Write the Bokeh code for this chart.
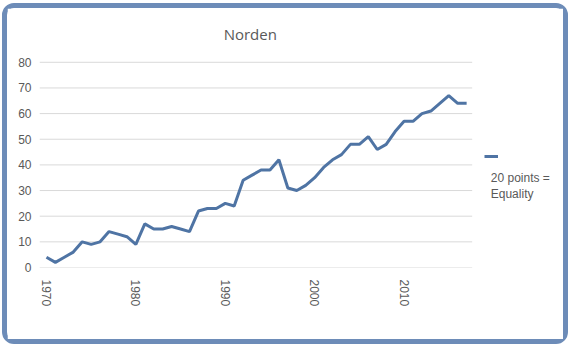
import math
from bokeh.plotting import figure
from bokeh.models import FixedTicker, Legend, LegendItem, Label, Range1d
from bokeh.embed import file_html
from bokeh.resources import INLINE

years = list(range(1970, 2018))
values = [4, 2, 4, 6, 10, 9, 10, 14, 13, 12, 9, 17, 15, 15, 16, 15, 14, 22, 23, 23,
          25, 24, 34, 36, 38, 38, 42, 31, 30, 32, 35, 39, 42, 44, 48, 48, 51, 46, 48, 53,
          57, 57, 60, 61, 64, 67, 64, 64]
x_ticks = [1970, 1980, 1990, 2000, 2010]
y_ticks = [0, 10, 20, 30, 40, 50, 60, 70, 80]
title_text = "Norden"
legend_text = "20 points =\nEquality"

LINE = "#4f74a4"
GRAY = "#595959"

W, H = 566, 341
p = figure(width=W, height=H, output_backend="svg", toolbar_location=None,
           x_range=Range1d(1969.22, 2027.5), y_range=Range1d(0, 95.9),
           min_border_left=32, min_border_right=13, min_border_top=13, min_border_bottom=82)
p.styles = {"border": "5px solid #6d8cb8", "border-radius": "12px",
            "margin-left": "2px", "margin-top": "3px"}
p.outline_line_color = None
p.background_fill_color = "white"
p.border_fill_color = "white"

# horizontal gridlines over the plotting area only
gx0 = [years[0] - 0.78] * len(y_ticks)
gx1 = [years[-1] + 0.62] * len(y_ticks)
p.segment(x0=gx0, x1=gx1, y0=y_ticks, y1=y_ticks, line_color="#d9d9d9", line_width=1)

r = p.line(years, values, line_color=LINE, line_width=3)

p.xaxis.ticker = FixedTicker(ticks=x_ticks)
p.yaxis.ticker = FixedTicker(ticks=y_ticks)
for ax in (p.xaxis, p.yaxis):
    ax.axis_line_color = None
    ax.major_tick_line_color = None
    ax.minor_tick_line_color = None
    ax.major_tick_out = 0
    ax.major_tick_in = 0
    ax.minor_tick_out = 0
    ax.minor_tick_in = 0
    ax.major_label_text_color = GRAY
    ax.major_label_text_font = "Liberation Sans"
p.xaxis.major_label_text_font_size = "12px"
p.yaxis.major_label_text_font_size = "12px"
p.xaxis.major_label_orientation = -math.pi / 2
p.xaxis.major_label_standoff = 12
p.yaxis.major_label_standoff = 8

p.xgrid.grid_line_color = None
p.ygrid.grid_line_color = None

# chart title
title_lbl = Label(x=1992.8, y=90.9, text=title_text, text_font="Open Sans",
                  text_font_size="15px", text_color=GRAY, text_baseline="middle",
                  text_align="center")
p.add_layout(title_lbl)

legend = Legend(items=[LegendItem(label=" ", renderers=[r])],
                location=(445, 106), padding=0, margin=0, spacing=0,
                glyph_width=14, glyph_height=10, label_height=10, label_width=1,
                label_standoff=0, border_line_color=None, background_fill_alpha=0,
                label_text_font_size="2px")
p.add_layout(legend)

lbl = Label(x=2019.7, y=37.5, text=legend_text, text_font="Liberation Sans",
            text_font_size="12px", text_color=GRAY, text_baseline="top",
            text_align="left", text_line_height=1.15)
p.add_layout(lbl)

open("out.html", "w").write(file_html(p, INLINE))
